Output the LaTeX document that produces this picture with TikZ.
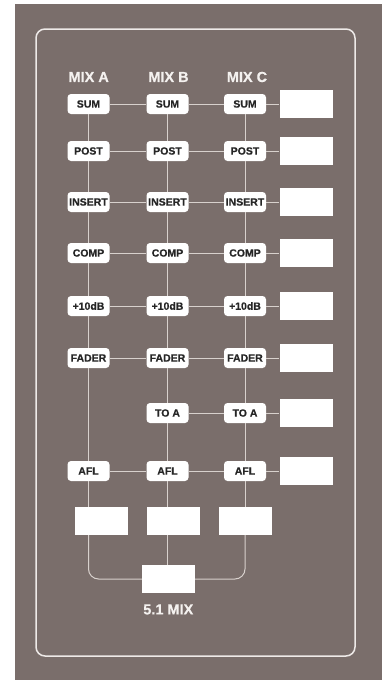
\documentclass[tikz,border=0pt]{standalone}
\usepackage{fontspec}
\setmainfont{Liberation Sans}
\newfontfamily\hfont[FakeBold=0.5]{Liberation Sans Bold}
\definecolor{bgdark}{HTML}{7A6E6B}
\definecolor{linec}{HTML}{D8D1CD}
\definecolor{txtdark}{HTML}{262626}
\definecolor{framec}{HTML}{EEEAE8}
\definecolor{headc}{HTML}{F4F1EF}
\begin{document}
\begin{tikzpicture}[x=1pt,y=-1pt,
  tag/.style={fill=white,rounded corners=3.5pt,minimum width=42pt,minimum height=20pt,inner sep=0pt,
    font=\hfont\fontsize{10.5}{12}\selectfont,text=txtdark},
  outbox/.style={fill=white,minimum width=53pt,minimum height=28pt,inner sep=0pt},
  head/.style={font=\hfont\fontsize{14.5}{16}\selectfont,text=headc,inner sep=0pt},
  conn/.style={draw=linec,line width=1pt}]
\useasboundingbox (0,0) rectangle (382,680);
\fill[bgdark] (15,4) rectangle (382,680);
\draw[framec,line width=1.5pt,rounded corners=9pt] (36,29) rectangle (355,656);
% headers
\node[head] (ha) at (88.7,77) {MIX A};
\node[head] (hb) at (168.5,77) {MIX B};
\node[head] (hc) at (247,77) {MIX C};
% rows
\foreach \n/\y/\t in {1/104/SUM,2/151/POST,3/202/INSERT,4/253/COMP,5/306/+10dB,6/358/FADER,8/471/AFL}{
  \node[tag] (a\n) at (88.5,\y) {\t};
}
\foreach \n/\y/\t in {1/104/SUM,2/151/POST,3/202/INSERT,4/253/COMP,5/306/+10dB,6/358/FADER,7/413/TO A,8/471/AFL}{
  \node[tag] (b\n) at (167.5,\y) {\t};
  \node[tag] (c\n) at (245,\y) {\t};
  \node[outbox] (r\n) at (306,\y) {};
}
% bottom boxes
\node[outbox] (ba) at (101.5,521) {};
\node[outbox] (bb) at (173.5,521) {};
\node[outbox] (bc) at (245,521) {};
\node[outbox] (mix) at (168.5,579) {};
\node[head] (mixl) at (168.3,609.5) {5.1 MIX};
% horizontal connectors
\foreach \n in {1,2,3,4,5,6,8}{
  \draw[conn] (a\n) -- (b\n);
}
\foreach \n in {1,2,3,4,5,6,7,8}{
  \draw[conn] (b\n) -- (c\n);
  \draw[conn] (c\n) -- (r\n);
}
% vertical connectors
\foreach \p/\q in {1/2,2/3,3/4,4/5,5/6}{
  \draw[conn] (a\p) -- (a\q);
  \draw[conn] (b\p) -- (b\q);
  \draw[conn] (c\p) -- (c\q);
}
\draw[conn] (a6) -- (a8);
\draw[conn] (b6) -- (b7);
\draw[conn] (b7) -- (b8);
\draw[conn] (c6) -- (c7);
\draw[conn] (c7) -- (c8);
\draw[conn] (a8.south) -- (a8.south |- ba.north);
\draw[conn] (b8.south) -- (b8.south |- bb.north);
\draw[conn] (c8) -- (bc);
% to 5.1 mix
\draw[conn,rounded corners=10pt] (a8.south |- ba.south) |- (mix.west);
\draw[conn] (b8.south |- bb.south) -- (b8.south |- mix.north);
\draw[conn,rounded corners=10pt] (bc.south) |- (mix.east);
\end{tikzpicture}
\end{document}
